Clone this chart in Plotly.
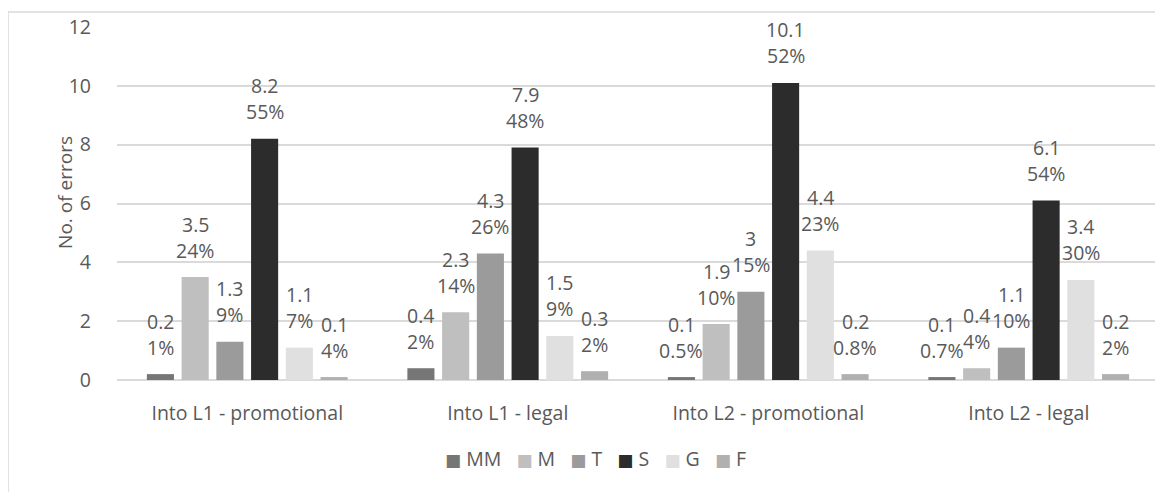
import plotly.graph_objects as go

categories = ["Into L1 - promotional", "Into L1 - legal", "Into L2 - promotional", "Into L2 - legal"]
series_names = ["MM", "M", "T", "S", "G", "F"]
MM = [0.2, 0.4, 0.1, 0.1]
M = [3.5, 2.3, 1.9, 0.4]
T = [1.3, 4.3, 3, 1.1]
S = [8.2, 7.9, 10.1, 6.1]
G = [1.1, 1.5, 4.4, 3.4]
F = [0.1, 0.3, 0.2, 0.2]
MM_pct = [1, 2, 0.5, 0.7]
M_pct = [24, 14, 10, 4]
T_pct = [9, 26, 15, 10]
S_pct = [55, 48, 52, 54]
G_pct = [7, 9, 23, 30]
F_pct = [4, 2, 0.8, 2]
y_ticks = [0, 2, 4, 6, 8, 10, 12]
y_title = "No. of errors"

values = [MM, M, T, S, G, F]
pcts = [MM_pct, M_pct, T_pct, S_pct, G_pct, F_pct]
colors = ["#767676", "#bfbfbf", "#9b9b9b", "#2c2c2c", "#e0e0e0", "#b0b0b0"]

FONT = "'Open Sans', Lato, sans-serif"
TXT = "#595959"
GRID = "#dadada"
BARGAP = 0.2
FS = 19.5

fig = go.Figure()
xs = list(range(len(categories)))
for name, vals, col in zip(series_names, values, colors):
    fig.add_trace(go.Bar(x=xs, y=vals, name=name, marker=dict(color=col, line=dict(width=0)),
                         hoverinfo="skip", showlegend=False))

n = len(series_names)
slot = (1 - BARGAP) / n
annotations = []
for j in range(n):
    for i in xs:
        xpos = i + (j - (n - 1) / 2) * slot
        v = values[j][i]
        p = pcts[j][i]
        annotations.append(dict(x=xpos, y=v, xref="x", yref="y", text=f"{v:g}", showarrow=False,
                                yanchor="middle", xanchor="center", yshift=53,
                                font=dict(family=FONT, size=FS, color=TXT)))
        annotations.append(dict(x=xpos, y=v, xref="x", yref="y", text=f"{p:g}%", showarrow=False,
                                yanchor="middle", xanchor="center", yshift=27,
                                font=dict(family=FONT, size=FS, color=TXT)))

annotations.append(dict(x=-0.0499, y=0.53, xref="paper", yref="paper", text=y_title,
                        textangle=-90, showarrow=False, xanchor="center", yanchor="middle",
                        font=dict(family=FONT, size=19, color=TXT)))

# legend built as one line of text from the series names and colours
legend_parts = [
    f"<span style='font-family:DejaVu Sans;font-size:17px;color:{col}'>■</span> {name}"
    for name, col in zip(series_names, colors)
]
annotations.append(dict(x=0.459, y=-0.221, xref="paper", yref="paper",
                        text="\u00a0\u00a0\u00a0".join(legend_parts), showarrow=False,
                        xanchor="center", yanchor="middle",
                        font=dict(family=FONT, size=FS, color=TXT)))

fig.update_layout(
    width=1155, height=484,
    margin=dict(l=109, r=4, t=19, b=112, autoexpand=False),
    paper_bgcolor="white", plot_bgcolor="white",
    barmode="group", bargap=BARGAP, bargroupgap=0.22,
    font=dict(family=FONT, size=FS, color=TXT),
    annotations=annotations,
    showlegend=False,
    shapes=[dict(type="rect", xref="paper", yref="paper", x0=-0.1046, x1=1.2, y0=-0.5, y1=1.0425,
                 line=dict(color="#d9d9d9", width=1.5), fillcolor="rgba(0,0,0,0)", layer="below")],
    xaxis=dict(tickvals=xs, ticktext=categories, range=[-0.5, len(categories) - 0.5],
               showgrid=False, zeroline=False, showline=False, ticks="",
               ticklabelstandoff=19, tickfont=dict(family=FONT, size=FS, color=TXT)),
    yaxis=dict(range=[0, 12], tickvals=y_ticks, showgrid=True, gridcolor=GRID, gridwidth=1.5,
               zeroline=True, zerolinecolor=GRID, zerolinewidth=1.5, showline=False, ticks="",
               ticklabelstandoff=25, tickfont=dict(family=FONT, size=FS, color=TXT)),
)

fig.write_html("out.html")
